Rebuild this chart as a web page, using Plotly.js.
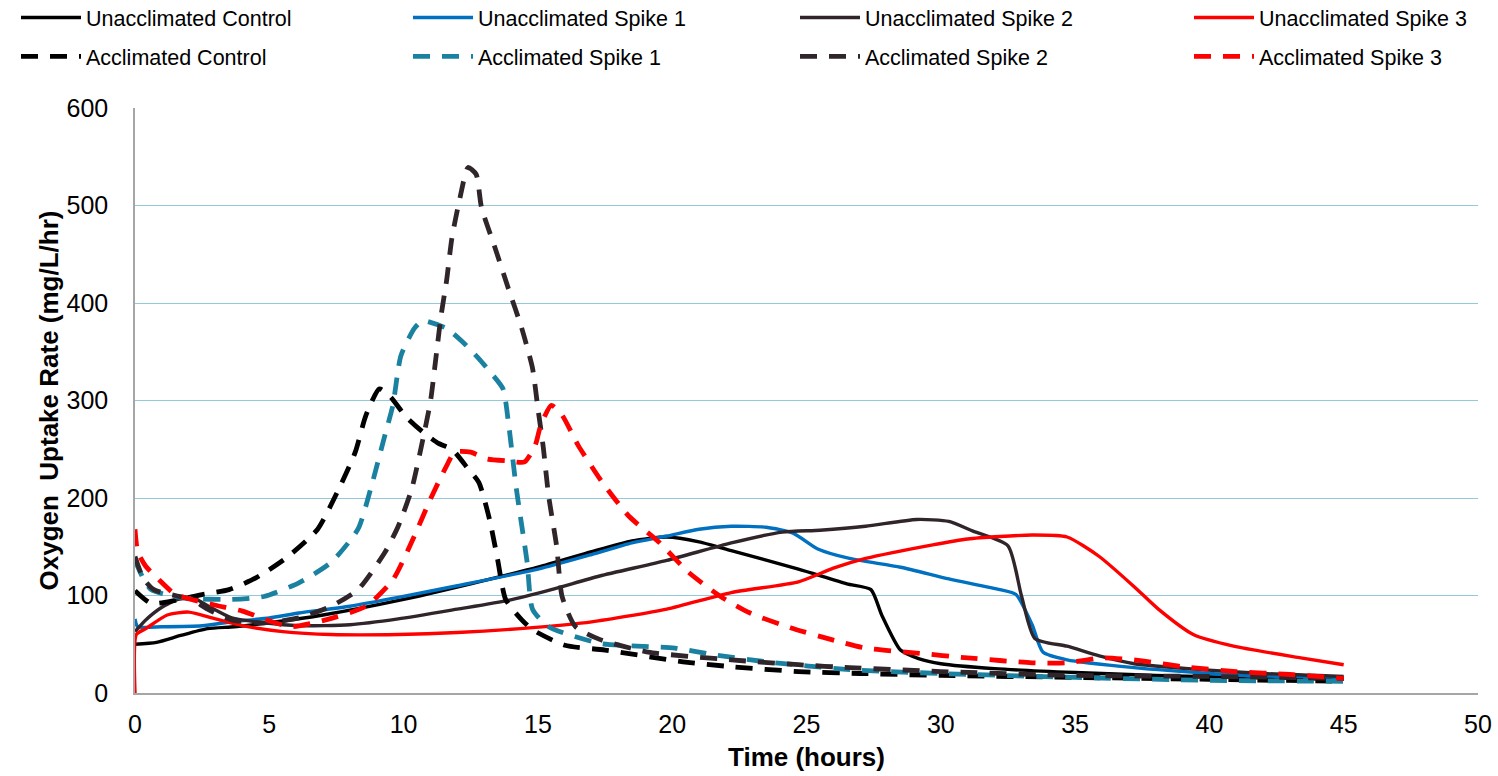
<!DOCTYPE html>
<html>
<head>
<meta charset="utf-8">
<script src="https://cdn.plot.ly/plotly-3.0.1.min.js"></script>
<style>html,body{margin:0;padding:0;background:#fff;}#chart{width:1498px;height:776px;}</style>
</head>
<body>
<div id="chart"></div>
<script>
// ---- Data (hours, mg/L/hr) ----
const unaccControlT = [0, 0.8, 1.7, 2.7, 3.7, 5, 7, 10, 12.5, 15, 17, 18.5, 19.8, 21, 22.2, 24.7, 26.5, 27.4, 27.8, 28.5, 29.2, 30, 32, 35, 38, 41, 45];
const unaccControlY = [50, 52, 59, 66, 68, 72, 80, 96, 112, 129, 145, 156, 160, 155, 146, 127, 112, 106, 80, 44, 35, 30, 25, 21, 18, 16, 14];

const unaccSpike1T = [0, 0.1, 1, 2.5, 3.6, 5, 6.1, 8, 9.8, 12, 15, 17, 18.5, 19.8, 21, 22.2, 23.5, 24.5, 25.4, 26.6, 28.5, 30.3, 32.2, 32.8, 33.4, 33.8, 34.7, 37.2, 40, 42, 45];
const unaccSpike1Y = [76, 68, 68, 69, 73, 77, 82, 89, 98, 110, 127, 142, 154, 161, 168, 171, 170, 164, 148, 138, 129, 117, 106, 101, 70, 42, 34, 26, 20, 17, 15];

const unaccSpike2T = [0, 0.4, 1, 1.6, 2.2, 2.8, 3.6, 4.8, 6.1, 8, 9.8, 12, 13.9, 15.5, 17.3, 19.8, 22.2, 24.1, 25.5, 27.2, 29.1, 30.3, 31.2, 32.5, 33, 33.5, 34.7, 35.9, 37.2, 39.7, 42, 45];
const unaccSpike2Y = [63, 75, 88, 96, 97, 88, 77, 72, 69, 70, 76, 86, 95, 106, 120, 136, 154, 165, 167, 171, 178, 176, 166, 151, 100, 56, 48, 38, 30, 24, 20, 17];

const unaccSpike3T = [0, 0.05, 0.4, 1.2, 2, 3, 4.2, 5.5, 7.3, 9.8, 12, 14.8, 17, 19.8, 22.2, 24.7, 26, 27.2, 29.7, 31, 33.4, 34.7, 35.9, 37.2, 38.1, 39.4, 40.9, 43.4, 45];
const unaccSpike3Y = [0, 60, 66, 80, 83, 76, 68, 63, 60, 60, 62, 67, 73, 86, 103, 114, 128, 138, 152, 158, 162, 160, 140, 109, 86, 60, 48, 36, 29];

const accControlT = [0, 0.6, 1.5, 2.5, 3.5, 4.5, 5.7, 6.8, 7.6, 8.2, 8.6, 9.1, 9.5, 10.1, 10.7, 11.3, 11.8, 12.4, 12.8, 13.2, 13.5, 13.8, 14.4, 14.8, 16, 17.5, 20.4, 22.2, 24.7, 27, 30, 35, 40, 45];
const accControlY = [105, 92, 95, 101, 106, 118, 140, 168, 210, 247, 285, 312, 304, 283, 268, 256, 250, 230, 216, 178, 137, 96, 75, 65, 49, 44, 32, 27, 22, 20, 18, 16, 14, 12];

const accSpike1T = [0, 0.3, 0.6, 1.3, 2, 3.6, 4.8, 6.1, 7.3, 8.3, 8.8, 9.3, 9.6, 9.9, 10.4, 10.7, 10.9, 11.6, 12.2, 12.8, 13.2, 13.7, 13.9, 14.2, 14.6, 14.8, 15.4, 17.3, 20.1, 21.6, 23.5, 26.6, 30, 35, 40, 45];
const accSpike1Y = [136, 118, 106, 100, 97, 96, 99, 113, 134, 168, 212, 264, 295, 346, 374, 382, 381, 374, 360, 343, 330, 312, 278, 209, 134, 86, 68, 51, 46, 39, 32, 24, 20, 16, 13, 12];

const accSpike2T = [0, 0.3, 0.7, 1.5, 2.1, 2.7, 3.6, 4.8, 6.1, 7.3, 8.3, 9.3, 9.8, 10.3, 10.7, 11, 11.2, 11.4, 11.6, 11.8, 12.1, 12.4, 12.7, 12.9, 13.4, 13.9, 14.4, 14.8, 15, 15.2, 15.4, 15.7, 15.9, 16.4, 17.3, 19.1, 22.2, 24.7, 26.6, 30, 35, 40, 45];
const accSpike2Y = [140, 118, 106, 100, 96, 86, 75, 72, 77, 89, 106, 144, 171, 209, 258, 299, 343, 388, 423, 467, 508, 539, 532, 498, 457, 415, 374, 333, 292, 252, 202, 150, 99, 68, 55, 42, 34, 29, 26, 22, 18, 17, 15];

const accSpike3T = [0, 0.1, 0.4, 0.9, 1.5, 2.1, 3, 4, 5, 5.8, 7.1, 8.6, 9.6, 10.4, 11, 11.6, 11.9, 12.5, 13.1, 13.9, 14.5, 14.9, 15.1, 15.5, 15.9, 16.5, 17.4, 18.4, 19.5, 20.6, 21.8, 22.9, 24.4, 25.9, 27.2, 29.1, 31, 33.4, 34.7, 36, 37.5, 39, 41, 43, 45];
const accSpike3Y = [168, 145, 130, 116, 101, 96, 90, 84, 74, 68, 75, 89, 116, 161, 199, 233, 247, 247, 240, 238, 237, 254, 274, 295, 285, 254, 216, 181, 155, 124, 99, 82, 67, 55, 46, 41, 36, 31, 31, 36, 33, 27, 22, 19, 15];

const seriesNames = ["Unacclimated Control", "Unacclimated Spike 1", "Unacclimated Spike 2", "Unacclimated Spike 3",
                     "Acclimated Control", "Acclimated Spike 1", "Acclimated Spike 2", "Acclimated Spike 3"];
const xTickVals = [0, 5, 10, 15, 20, 25, 30, 35, 40, 45, 50];
const yTickVals = [0, 100, 200, 300, 400, 500, 600];
const xTitle = "Time (hours)";
const yTitle = "Oxygen  Uptake Rate (mg/L/hr)";

// ---- Styles ----
const C_BLACK = "#000000", C_BLUE = "#0070C0", C_DARK = "#30252A", C_RED = "#FF0000", C_TEAL = "#1A82A0";
const DASH = "17px,12px";
const FONT = "Liberation Sans, Arial, sans-serif";

function tr(x, y, name, color, dashed, legend) {
  return {
    x: x, y: y, name: name, type: "scatter", mode: "lines",
    legend: legend, legendgroup: name, legendrank: dashed ? 2 : 1,
    line: {color: color, width: dashed ? 4.8 : 3.4, dash: dashed ? DASH : "solid", shape: "spline", smoothing: 0.6},
    hoverinfo: "x+y+name"
  };
}

const data = [
  tr(unaccControlT, unaccControlY, seriesNames[0], C_BLACK, false, "legend"),
  tr(unaccSpike1T, unaccSpike1Y, seriesNames[1], C_BLUE, false, "legend2"),
  tr(unaccSpike2T, unaccSpike2Y, seriesNames[2], C_DARK, false, "legend3"),
  tr(unaccSpike3T, unaccSpike3Y, seriesNames[3], C_RED, false, "legend4"),
  tr(accControlT, accControlY, seriesNames[4], C_BLACK, true, "legend"),
  tr(accSpike1T, accSpike1Y, seriesNames[5], C_TEAL, true, "legend2"),
  tr(accSpike2T, accSpike2Y, seriesNames[6], C_DARK, true, "legend3"),
  tr(accSpike3T, accSpike3Y, seriesNames[7], C_RED, true, "legend4")
];

function leg(xpx) {
  return {
    xref: "container", yref: "paper", x: xpx / 1498, y: (693 + 3) / 585, xanchor: "left", yanchor: "top",
    orientation: "v", traceorder: "grouped", tracegroupgap: 8,
    font: {family: FONT, size: 21.5, color: "#000"}, bgcolor: "rgba(0,0,0,0)", borderwidth: 0,
    itemwidth: 60
  };
}

const layout = {
  width: 1498, height: 776,
  margin: {l: 135, r: 20, t: 108, b: 83, autoexpand: false},
  paper_bgcolor: "#fff", plot_bgcolor: "#fff",
  font: {family: FONT, color: "#000"},
  showlegend: true,
  legend: leg(16), legend2: leg(408), legend3: leg(795), legend4: leg(1189),
  xaxis: {
    range: [0, 50], tickvals: xTickVals, ticktext: xTickVals.map(String),
    showgrid: false, zeroline: false, showline: true, linecolor: "#A6A6A6", linewidth: 1.5,
    ticks: "outside", ticklen: 8, tickcolor: "rgba(0,0,0,0)", tickfont: {family: FONT, size: 25, color: "#000"}
  },
  yaxis: {
    range: [0, 600], tickvals: yTickVals, ticktext: yTickVals.map(String),
    showgrid: true, gridcolor: "#93C9DA", gridwidth: 1.2, zeroline: false,
    showline: true, linecolor: "#A6A6A6", linewidth: 1.5,
    ticks: "outside", ticklen: 20, tickcolor: "rgba(0,0,0,0)", tickfont: {family: FONT, size: 25, color: "#000"}
  },
  annotations: [
    {text: "<b>" + xTitle + "</b>", xref: "paper", yref: "paper", x: 0.5, y: -(757 - 693) / 585,
     xanchor: "center", yanchor: "middle", showarrow: false, font: {family: FONT, size: 26, color: "#000"}},
    {text: "<b>" + yTitle + "</b>", xref: "paper", yref: "paper", x: (48 - 135) / 1343, y: 0.5, textangle: -90,
     xanchor: "center", yanchor: "middle", showarrow: false, font: {family: FONT, size: 26, color: "#000"}}
  ]
};

Plotly.newPlot("chart", data, layout, {displayModeBar: false, responsive: false});
</script>
</body>
</html>
